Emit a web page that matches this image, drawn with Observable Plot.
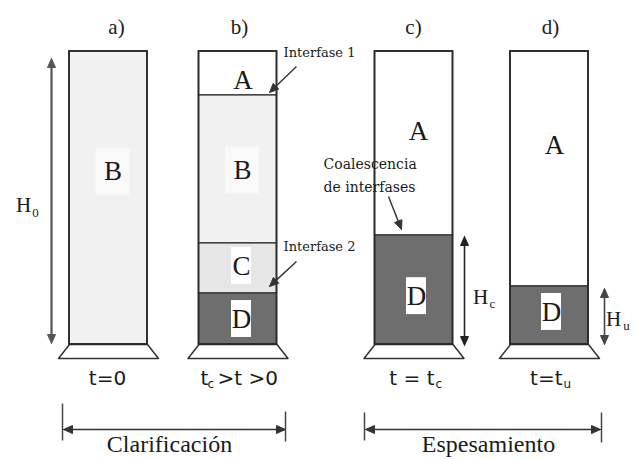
<!DOCTYPE html>
<html>
<head>
<meta charset="utf-8">
<script src="https://cdn.jsdelivr.net/npm/d3@7"></script>
<script src="https://cdn.jsdelivr.net/npm/@observablehq/plot@0.6"></script>
<style>
  html, body { margin: 0; padding: 0; background: #fff; }
</style>
</head>
<body>
<div id="chart"></div>
<script>
// ---------- data ----------
const columns = ["a)", "b)", "c)", "d)"];
const columnCenter = [108, 237.5, 413.5, 549];
// layers inside each cylinder, heights in % of H0
const layerColumn = [0, 1, 1, 1, 1, 2, 2, 3, 3];
const layerZone   = ["B", "A", "B", "C", "D", "A", "D", "A", "D"];
const layerFrom   = [0, 85, 34.5, 17.4, 0, 37.2, 0, 19.8, 0];
const layerTo     = [100, 100, 85, 34.5, 17.4, 100, 37.2, 100, 19.8];
const zones = ["A", "B", "C", "D"];
const zoneFill = ["#ffffff", "#f1f1f1", "#e6e6e6", "#6e6e6e"];
const zoneBox  = [null, "#f9f9f9", "#ffffff", "#ffffff"];
// letter label placement (layout)
const labelDx = [4.5, 5, 4.5, 3.5, 3.5, 4.5, 2.5, 5, 2];
const labelY  = [59.0, 90.1, 59.4, 26.8, 8.7, 72.7, 16.5, 67.9, 11.1];

// ---------- geometry helpers ----------
const K = 2.93, BOTTOM = 344;           // px per unit, px of cylinder bottom
const U = py => (BOTTOM - py) / K;      // pixel row -> data units
const HALF = 39, BASE_HALF = 50, BASE_H = 14;

const layers = layerColumn.map((c, i) => ({
  cx: columnCenter[c], zone: layerZone[i], from: layerFrom[i], to: layerTo[i],
  fill: zoneFill[zones.indexOf(layerZone[i])],
  box: zoneBox[zones.indexOf(layerZone[i])],
  lx: columnCenter[c] + labelDx[i], ly: labelY[i]
}));
const cyl = columns.map((name, i) => ({name, cx: columnCenter[i]}));

const bases = [];
cyl.forEach((c, i) => {
  [[c.cx - HALF, BOTTOM], [c.cx + HALF, BOTTOM], [c.cx + BASE_HALF, BOTTOM + BASE_H],
   [c.cx - BASE_HALF, BOTTOM + BASE_H], [c.cx - HALF, BOTTOM]]
    .forEach(([x, y]) => bases.push({id: i, x, y: U(y)}));
});

// arrows in pixel layout
const arrows = [
  {x1: 51, y1: 58, x2: 51, y2: 343, both: true, stroke: "#555", w: 2.2},
  {x1: 464, y1: 236, x2: 464, y2: 345, both: true, stroke: "#222", w: 1.6},
  {x1: 604, y1: 288, x2: 604, y2: 344, both: true, stroke: "#444", w: 1.6},
  {x1: 63, y1: 429, x2: 285, y2: 429, both: true, stroke: "#333", w: 1.6},
  {x1: 365, y1: 429, x2: 600, y2: 429, both: true, stroke: "#333", w: 1.6},
  {x1: 296, y1: 66, x2: 269, y2: 92, both: false, stroke: "#333", w: 1.4},
  {x1: 296, y1: 261, x2: 269, y2: 286, both: false, stroke: "#333", w: 1.4},
  {x1: 388, y1: 196, x2: 401, y2: 229, both: false, stroke: "#333", w: 1.4}
];
const ticks = [
  {x: 62, y1: 403, y2: 440}, {x: 285, y1: 411, y2: 441},
  {x: 364, y1: 412, y2: 440}, {x: 601, y1: 412, y2: 442}
];
const L = 9, W = 4;
const shafts = [], heads = [];
arrows.forEach((a, i) => {
  const len = Math.hypot(a.x2 - a.x1, a.y2 - a.y1);
  const dx = (a.x2 - a.x1) / len, dy = (a.y2 - a.y1) / len;
  const head = (tx, ty, ux, uy, id) => {
    const bx = tx - ux * L, by = ty - uy * L, nx = -uy, ny = ux;
    [[tx, ty], [bx + nx * W, by + ny * W], [bx - nx * W, by - ny * W], [tx, ty]]
      .forEach(([x, y]) => heads.push({id, x, y: U(y), stroke: a.stroke}));
    return [bx, by];
  };
  const [ex, ey] = head(a.x2, a.y2, dx, dy, i + "e");
  let sx = a.x1, sy = a.y1;
  if (a.both) [sx, sy] = head(a.x1, a.y1, -dx, -dy, i + "s");
  shafts.push({x1: sx, y1: U(sy), x2: ex, y2: U(ey), stroke: a.stroke, w: a.w});
});

// text layout (px)
const serif = "Liberation Serif", sans = "DejaVu Sans", dserif = "DejaVu Serif";
const texts = [
  ...columns.map((t, i) => ({x: [116, 239, 413, 550][i], y: 27, text: t, size: 21, font: serif, anchor: "middle"})),
  {x: 23, y: 205, text: "H", size: 21, font: serif, anchor: "middle"},
  {x: 35, y: 212, text: "0", size: 13, font: serif, anchor: "middle"},
  {x: 480, y: 297, text: "H", size: 21, font: serif, anchor: "middle"},
  {x: 492, y: 303, text: "c", size: 13, font: serif, anchor: "middle"},
  {x: 613, y: 319, text: "H", size: 21, font: serif, anchor: "middle"},
  {x: 626, y: 325, text: "u", size: 13, font: serif, anchor: "middle"},
  {x: 283, y: 52, text: "Interfase 1", size: 13, font: dserif, anchor: "start"},
  {x: 283, y: 246, text: "Interfase 2", size: 13, font: dserif, anchor: "start"},
  {x: 323, y: 164, text: "Coalescencia", size: 14, font: dserif, anchor: "start"},
  {x: 323, y: 187, text: "de interfases", size: 14, font: dserif, anchor: "start"},
  {x: 107, y: 378, text: "t=0", size: 20, font: sans, anchor: "middle"},
  {x: 200, y: 378, text: "t", size: 20, font: sans, anchor: "start"},
  {x: 207, y: 384, text: "c", size: 12, font: sans, anchor: "start"},
  {x: 217, y: 378, text: ">t >0", size: 20, font: sans, anchor: "start"},
  {x: 434, y: 378, text: "t = t", size: 20, font: sans, anchor: "end"},
  {x: 435, y: 384, text: "c", size: 12, font: sans, anchor: "start"},
  {x: 562, y: 378, text: "t=t", size: 20, font: sans, anchor: "end"},
  {x: 563, y: 384, text: "u", size: 12, font: sans, anchor: "start"},
  {x: 169, y: 444, text: "Clarificación", size: 24, font: serif, anchor: "middle"},
  {x: 488, y: 444, text: "Espesamiento", size: 24, font: serif, anchor: "middle"}
].map(d => ({...d, y: U(d.y)}));

const textMarks = [...new Set(texts.map(t => t.font + "|" + t.size + "|" + t.anchor))].map(key => {
  const [font, size, anchor] = key.split("|");
  return Plot.text(texts.filter(t => t.font + "|" + t.size + "|" + t.anchor === key), {
    x: "x", y: "y", text: "text", fontFamily: font, fontSize: +size, textAnchor: anchor, fill: "#1a1a1a"
  });
});

const chart = Plot.plot({
  width: 636, height: 459, margin: 0,
  x: {domain: [0, 636], axis: null},
  y: {domain: [U(459), U(0)], axis: null},
  color: {type: "identity"},
  style: {background: "#fff", overflow: "visible"},
  marks: [
    // bases
    Plot.line(bases, {x: "x", y: "y", z: "id", fill: "#fff", stroke: "#333", strokeWidth: 1.5}),
    // layers
    Plot.rect(layers, {x1: d => d.cx - HALF, x2: d => d.cx + HALF, y1: "from", y2: "to",
      fill: "fill", stroke: "#333", strokeWidth: 1.3}),
    // cylinder outlines
    Plot.rect(cyl, {x1: d => d.cx - HALF, x2: d => d.cx + HALF, y1: 0, y2: 100,
      fill: "none", stroke: "#2a2a2a", strokeWidth: 1.8}),
    // label boxes
    Plot.rect(layers.filter(d => d.box), {x1: d => d.lx - (d.zone === "B" ? 17 : 10), x2: d => d.lx + (d.zone === "B" ? 17 : 10),
      y1: d => d.ly - (d.zone === "B" ? 8 : 6.3), y2: d => d.ly + (d.zone === "B" ? 8 : 6.3), fill: "box"}),
    // zone letters
    Plot.text(layers, {x: "lx", y: "ly", text: "zone", fontFamily: serif, fontSize: 27, fill: "#1a1a1a"}),
    // bracket ticks
    Plot.link(ticks, {x1: "x", x2: "x", y1: d => U(d.y1), y2: d => U(d.y2), stroke: "#444", strokeWidth: 1.5}),
    // arrows
    Plot.link(shafts, {x1: "x1", y1: "y1", x2: "x2", y2: "y2", stroke: "stroke", strokeWidth: "w"}),
    Plot.line(heads, {x: "x", y: "y", z: "id", fill: "stroke", stroke: "stroke", strokeWidth: 1}),
    ...textMarks
  ]
});
document.getElementById("chart").append(chart);
</script>
</body>
</html>
